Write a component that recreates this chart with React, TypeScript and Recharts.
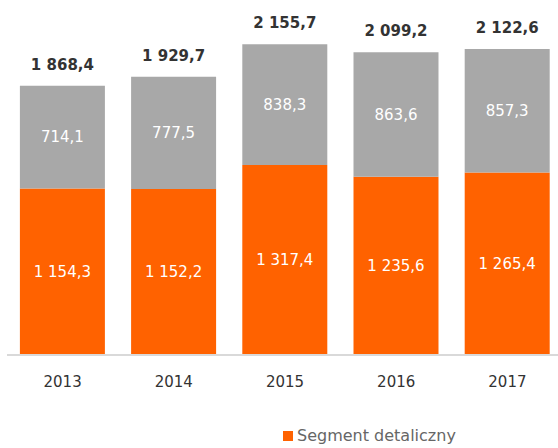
import { Bar, BarChart, LabelList, Legend, XAxis, YAxis } from "recharts";

const years = ["2013", "2014", "2015", "2016", "2017"];
const retail = [1154.3, 1152.2, 1317.4, 1235.6, 1265.4];
const other = [714.1, 777.5, 838.3, 863.6, 857.3];
const totals = [1868.4, 1929.7, 2155.7, 2099.2, 2122.6];

const ORANGE = "#FF6200";
const GREY = "#A8A8A8";
const FONT = "'DejaVu Sans', sans-serif";

const data = years.map((year, i) => ({
  year,
  retail: retail[i],
  other: other[i],
  total: totals[i],
}));

// 1154.3 -> "1 154,3"
const fmt = (v: unknown) => {
  const [int, dec] = Number(v).toFixed(1).split(".");
  return int.replace(/\B(?=(\d{3})+(?!\d))/g, " ") + "," + dec;
};

function LegendBox() {
  return (
    <div
      style={{
        display: "flex",
        alignItems: "center",
        fontFamily: FONT,
        fontSize: 16,
        color: "#666",
      }}
    >
      <span style={{ width: 10, height: 10, background: ORANGE, marginRight: 4 }} />
      Segment detaliczny
    </div>
  );
}

export default function App() {
  return (
    <div
      style={{
        position: "absolute",
        left: 0,
        top: 0,
        width: 558,
        height: 448,
        overflow: "hidden",
        background: "#fff",
      }}
    >
      <BarChart
        width={570}
        height={448}
        data={data}
        margin={{ top: 9, right: 7, bottom: 34, left: 7 }}
        barCategoryGap="11.6%"
      >
        <XAxis
          dataKey="year"
          axisLine={{ stroke: "#D9D9D9", strokeWidth: 2 }}
          tickLine={false}
          tickMargin={15}
          height={40}
          tick={{ fill: "#333", fontSize: 15, fontFamily: FONT }}
        />
        <YAxis hide domain={[0, 2400]} />
        <Legend
          verticalAlign="bottom"
          content={() => <LegendBox />}
          wrapperStyle={{ left: 283, bottom: 3, width: "auto" }}
        />
        <Bar dataKey="retail" stackId="a" fill={ORANGE} isAnimationActive={false}>
          <LabelList
            dataKey="retail"
            position="center"
            formatter={fmt}
            fill="#fff"
            fontSize={15}
            fontFamily={FONT}
          />
        </Bar>
        <Bar
          dataKey="other"
          stackId="a"
          fill={GREY}
          legendType="none"
          isAnimationActive={false}
        >
          <LabelList
            dataKey="other"
            position="center"
            formatter={fmt}
            fill="#fff"
            fontSize={15}
            fontFamily={FONT}
          />
          <LabelList
            dataKey="total"
            position="top"
            offset={16}
            formatter={fmt}
            fill="#333"
            fontSize={15}
            fontWeight="bold"
            fontFamily={FONT}
          />
        </Bar>
      </BarChart>
    </div>
  );
}
